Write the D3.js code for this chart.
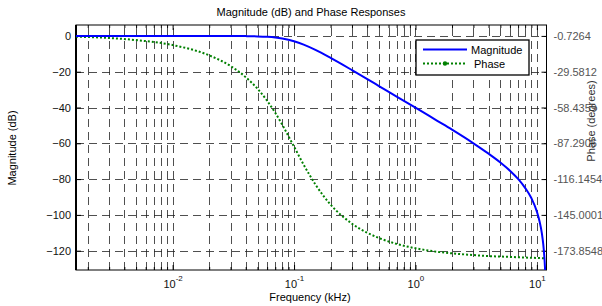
<!DOCTYPE html>
<html>
<head>
<meta charset="utf-8">
<script src="https://cdn.jsdelivr.net/npm/d3@7"></script>
<style>
	body { margin: 0; background: #fff; }
	text { font-family: 'Liberation Sans', Arial, sans-serif; }
</style>
</head>
<body>
<script>
// frequency points (kHz)
var freqs = [0.0016, 0.003, 0.005, 0.01, 0.02, 0.03, 0.04, 0.05, 0.06, 0.07, 0.08, 0.1, 0.12, 0.15,
	0.2, 0.3, 0.5, 0.7, 1, 1.5, 2, 3, 4, 5, 6, 7, 8, 9, 10, 10.5, 11, 11.3, 11.5, 11.65, 11.7];

// magnitude (dB)
var magnitude = [0, 0, 0, 0, -0.01, -0.04, -0.11, -0.26, -0.53, -0.93, -1.49, -3.01, -4.88, -7.83,
	-12.3, -19.1, -28.0, -33.9, -40.1, -47.3, -52.4, -60.0, -65.8, -70.7, -75.3, -79.9, -84.9, -90.6,
	-98.2, -103.4, -110.5, -116.8, -122.7, -128.9, -131.5];

// phase (degrees)
var phase = [-1.3, -2.4, -4.1, -8.1, -16.4, -25.0, -34.0, -43.3, -53.0, -62.7, -72.4, -90.0, -104.5, -120.5,
	-136.7, -152.1, -163.6, -168.4, -171.9, -174.7, -176.0, -177.4, -178.2, -178.6, -178.9, -179.2, -179.4, -179.6,
	-179.7, -179.8, -179.9, -179.9, -180.0, -180.0, -180.0];

var magTicks = [-120, -100, -80, -60, -40, -20, 0];
var phaseTicks = [-173.8548, -145.0001, -116.1454, -87.2906, -58.4359, -29.5812, -0.7264];
var freqMajor = [0.01, 0.1, 1, 10];
var freqExp = ['-2', '-1', '0', '1'];
var freqMinor = [];
[0.001, 0.01, 0.1, 1].forEach(function(d) {
	for (var k = 2; k <= 9; k++) if (d * k <= 12) freqMinor.push(d * k);
});

var width = 602,
		height = 306;

// plot box (window.top is reserved, so no plain "top")
var pL = 76, pR = 546.5, pT = 25, pB = 270;

var x = d3.scaleLog()
	.domain([0.0016, 12])
	.range([pL, pR]);

var yMag = d3.scaleLinear()
	.domain([-130.8, 6.1])
	.range([pB, pT]);

// right axis shares the magnitude tick positions
var yPhase = d3.scaleLinear()
	.domain([phaseTicks[0], phaseTicks[6]])
	.range([yMag(-120), yMag(0)]);

var svg = d3.select('body')
	.append('svg')
	.attr('width', width)
	.attr('height', height);

svg.append('defs').append('clipPath')
	.attr('id', 'plot')
	.append('rect')
	.attr('x', pL)
	.attr('y', pT)
	.attr('width', pR - pL)
	.attr('height', pB - pT);

// grid
var grid = svg.append('g')
	.attr('stroke', '#222')
	.attr('stroke-width', 0.8)
	.attr('stroke-dasharray', '8,5')
	.attr('fill', 'none');

grid.selectAll('.vg')
	.data(freqMajor.concat(freqMinor))
	.enter().append('line')
	.attr('x1', function(d) { return Math.round(x(d)) + 0.5; })
	.attr('x2', function(d) { return Math.round(x(d)) + 0.5; })
	.attr('y1', pB)
	.attr('y2', pT);

grid.selectAll('.hg')
	.data(magTicks)
	.enter().append('line')
	.attr('x1', pL)
	.attr('x2', pR)
	.attr('y1', function(d) { return Math.round(yMag(d)) + 0.5; })
	.attr('y2', function(d) { return Math.round(yMag(d)) + 0.5; });

// axes
var bottomAxis = svg.append('g')
	.attr('transform', 'translate(0,' + pB + ')')
	.call(d3.axisBottom(x).tickValues(freqMajor).tickSize(-5).tickSizeOuter(0).tickPadding(10).tickFormat(''));

bottomAxis.selectAll('.tick text')
	.each(function(d, i) {
		var t = d3.select(this).attr('font-size', 11).attr('fill', '#111');
		t.append('tspan').text('10');
		t.append('tspan').attr('dy', -7).attr('font-size', 8).text(freqExp[i]);
	});

svg.append('g')
	.attr('transform', 'translate(0,' + pB + ')')
	.call(d3.axisBottom(x).tickValues(freqMinor).tickSize(-3).tickSizeOuter(0).tickFormat(''));

svg.append('g')
	.attr('transform', 'translate(0,' + pT + ')')
	.call(d3.axisTop(x).tickValues(freqMajor).tickSize(-5).tickSizeOuter(0).tickFormat(''));

svg.append('g')
	.attr('transform', 'translate(0,' + pT + ')')
	.call(d3.axisTop(x).tickValues(freqMinor).tickSize(-3).tickSizeOuter(0).tickFormat(''));

svg.append('g')
	.attr('transform', 'translate(' + pL + ',0)')
	.call(d3.axisLeft(yMag).tickValues(magTicks).tickSize(-5).tickSizeOuter(0).tickPadding(5))
	.selectAll('text')
	.attr('font-size', 11)
	.attr('fill', '#111');

svg.append('g')
	.attr('transform', 'translate(' + pR + ',0)')
	.call(d3.axisRight(yPhase).tickValues(phaseTicks).tickSize(-5).tickSizeOuter(0).tickPadding(7)
		.tickFormat(function(d) { return d.toFixed(4); }))
	.selectAll('text')
	.attr('font-size', 11)
	.attr('fill', '#555');

svg.selectAll('.domain').remove();

svg.append('rect')
	.attr('x', pL)
	.attr('y', pT)
	.attr('width', pR - pL)
	.attr('height', pB - pT)
	.attr('fill', 'none')
	.attr('stroke', '#000')
	.attr('stroke-width', 1);

svg.append('line')
	.attr('x1', pL).attr('x2', pL)
	.attr('y1', pT).attr('y2', pB)
	.attr('stroke', '#000')
	.attr('stroke-width', 2);

// curves
var magLine = d3.line()
	.x(function(d, i) { return x(freqs[i]); })
	.y(function(d) { return yMag(d); })
	.curve(d3.curveMonotoneX);

var phaseLine = d3.line()
	.x(function(d, i) { return x(freqs[i]); })
	.y(function(d) { return yPhase(d); })
	.curve(d3.curveMonotoneX);

var plot = svg.append('g').attr('clip-path', 'url(#plot)');

plot.append('path')
	.attr('d', phaseLine(phase))
	.attr('fill', 'none')
	.attr('stroke', '#008000')
	.attr('stroke-width', 2)
	.attr('stroke-dasharray', '2,2');

plot.append('path')
	.attr('d', magLine(magnitude))
	.attr('fill', 'none')
	.attr('stroke', '#0000ff')
	.attr('stroke-width', 2);

// legend
var legend = svg.append('g');

legend.append('rect')
	.attr('x', 416)
	.attr('y', 40)
	.attr('width', 113)
	.attr('height', 35)
	.attr('fill', '#fff')
	.attr('stroke', '#000')
	.attr('stroke-width', 1.3);

legend.append('line')
	.attr('x1', 423).attr('x2', 467)
	.attr('y1', 49.5).attr('y2', 49.5)
	.attr('stroke', '#0000ff')
	.attr('stroke-width', 2);

legend.append('text')
	.attr('x', 471)
	.attr('y', 53.5)
	.attr('font-size', 11)
	.text('Magnitude');

legend.append('line')
	.attr('x1', 423).attr('x2', 467)
	.attr('y1', 63.5).attr('y2', 63.5)
	.attr('stroke', '#008000')
	.attr('stroke-width', 2)
	.attr('stroke-dasharray', '2,2');

legend.append('circle')
	.attr('cx', 445)
	.attr('cy', 63.5)
	.attr('r', 2.2)
	.attr('fill', '#008000');

legend.append('text')
	.attr('x', 474)
	.attr('y', 67.5)
	.attr('font-size', 11)
	.text('Phase');

// labels
svg.append('text')
	.attr('x', 311)
	.attr('y', 16)
	.attr('text-anchor', 'middle')
	.attr('font-size', 11)
	.text('Magnitude (dB) and Phase Responses');

svg.append('text')
	.attr('x', 310)
	.attr('y', 301)
	.attr('text-anchor', 'middle')
	.attr('font-size', 11)
	.text('Frequency (kHz)');

svg.append('text')
	.attr('transform', 'translate(16,148) rotate(-90)')
	.attr('text-anchor', 'middle')
	.attr('font-size', 11)
	.text('Magnitude (dB)');

svg.append('text')
	.attr('transform', 'translate(595,121) rotate(-90)')
	.attr('text-anchor', 'middle')
	.attr('font-size', 11)
	.attr('fill', '#333')
	.text('Phase (degrees)');
</script>
</body>
</html>
